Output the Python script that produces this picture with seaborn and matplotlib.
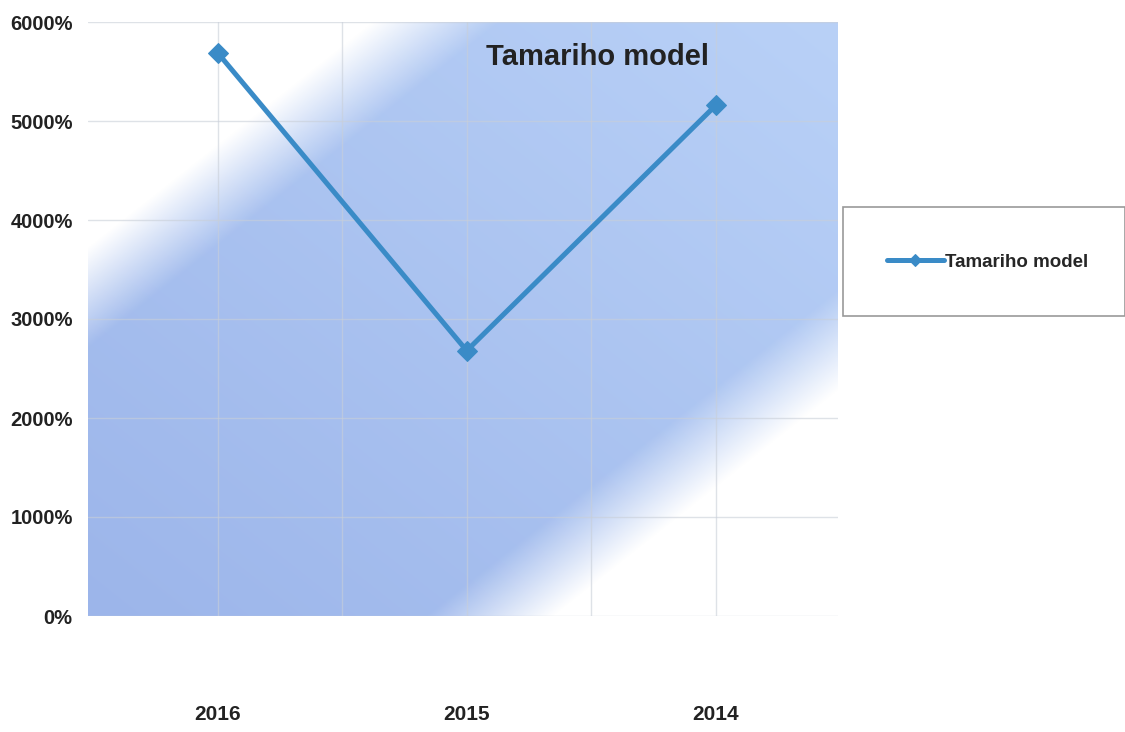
import numpy as np
import pandas as pd
import seaborn as sns
import matplotlib.pyplot as plt
from matplotlib.patches import Rectangle
from matplotlib.colors import to_rgb

# Data (values in %)
years = ["2016", "2015", "2014"]
values = [5690, 2680, 5160]
series_name = "Tamariho model"
y_ticks = [0, 1000, 2000, 3000, 4000, 5000, 6000]

df = pd.DataFrame({"year": years, "value": values})

sns.set_theme(style="white")
plt.rcParams["font.family"] = ["Liberation Sans", "DejaVu Sans"]

line_color = "#3a8bc7"

fig = plt.figure(figsize=(11.25, 7.32), dpi=100)
ax = fig.add_axes([88 / 1125, 1 - 616 / 732, 750 / 1125, 594 / 732])

# Diagonal blue gradient backdrop (lower-left to upper-right band)
n = 400
u, v = np.meshgrid(np.linspace(0, 1, n), np.linspace(0, 1, n))
d = np.abs(v - u) / np.sqrt(2)
alpha = np.clip((0.44 - d) / 0.12, 0, 1)
c_low = np.array(to_rgb("#9cb5ea"))
c_high = np.array(to_rgb("#b9d1f7"))
t = ((u + v) / 2)[..., None]
rgb = c_low * (1 - t) + c_high * t
img = np.dstack([rgb, alpha])
ax.imshow(img, extent=[0, 1, 0, 1], origin="lower", transform=ax.transAxes,
          aspect="auto", zorder=0, interpolation="bilinear")

sns.lineplot(data=df, x="year", y="value", sort=False, ax=ax,
             color=line_color, linewidth=3.6, marker="D", markersize=10,
             markeredgecolor=line_color, label=series_name, zorder=3)

ax.set_xlim(-0.52, 2.49)
ax.set_ylim(0, 6000)
ax.set_yticks(y_ticks)
ax.set_yticklabels([f"{t}%" for t in y_ticks], fontsize=14.5, fontweight="bold",
                   color="#222222")
ax.set_xticks(range(len(years)))
ax.set_xticklabels(years, fontsize=15, fontweight="bold", color="#222222")
ax.set_xticks([0.5, 1.5], minor=True)
ax.tick_params(axis="x", which="both", length=0, pad=64)
ax.tick_params(axis="y", length=0, pad=11)
ax.set_xlabel("")
ax.set_ylabel("")

ax.grid(True, which="both", color="#c9cfd8", linewidth=1, alpha=0.6)
ax.set_axisbelow(True)
for s in ax.spines.values():
    s.set_visible(False)

ax.text(0.68, 0.965, series_name, transform=ax.transAxes, ha="center", va="top",
        fontsize=21, fontweight="bold", color="#222222", zorder=4)

# Legend box on the right
ax.get_legend().remove()
fig.patches.append(Rectangle((843 / 1125, 1 - 316 / 732), 282 / 1125, 109 / 732,
                             transform=fig.transFigure, facecolor="white",
                             edgecolor="#999999", linewidth=1.2))
handles, labels = ax.get_legend_handles_labels()
leg = fig.legend(handles, labels, loc="center", frameon=False,
                 bbox_to_anchor=(988 / 1125, 1 - 262 / 732),
                 prop={"size": 13.5, "weight": "bold"}, handlelength=3.0,
                 handletextpad=0.1)
for h in leg.legend_handles:
    h.set_markersize(6)

fig.savefig("out.png", dpi=100)
